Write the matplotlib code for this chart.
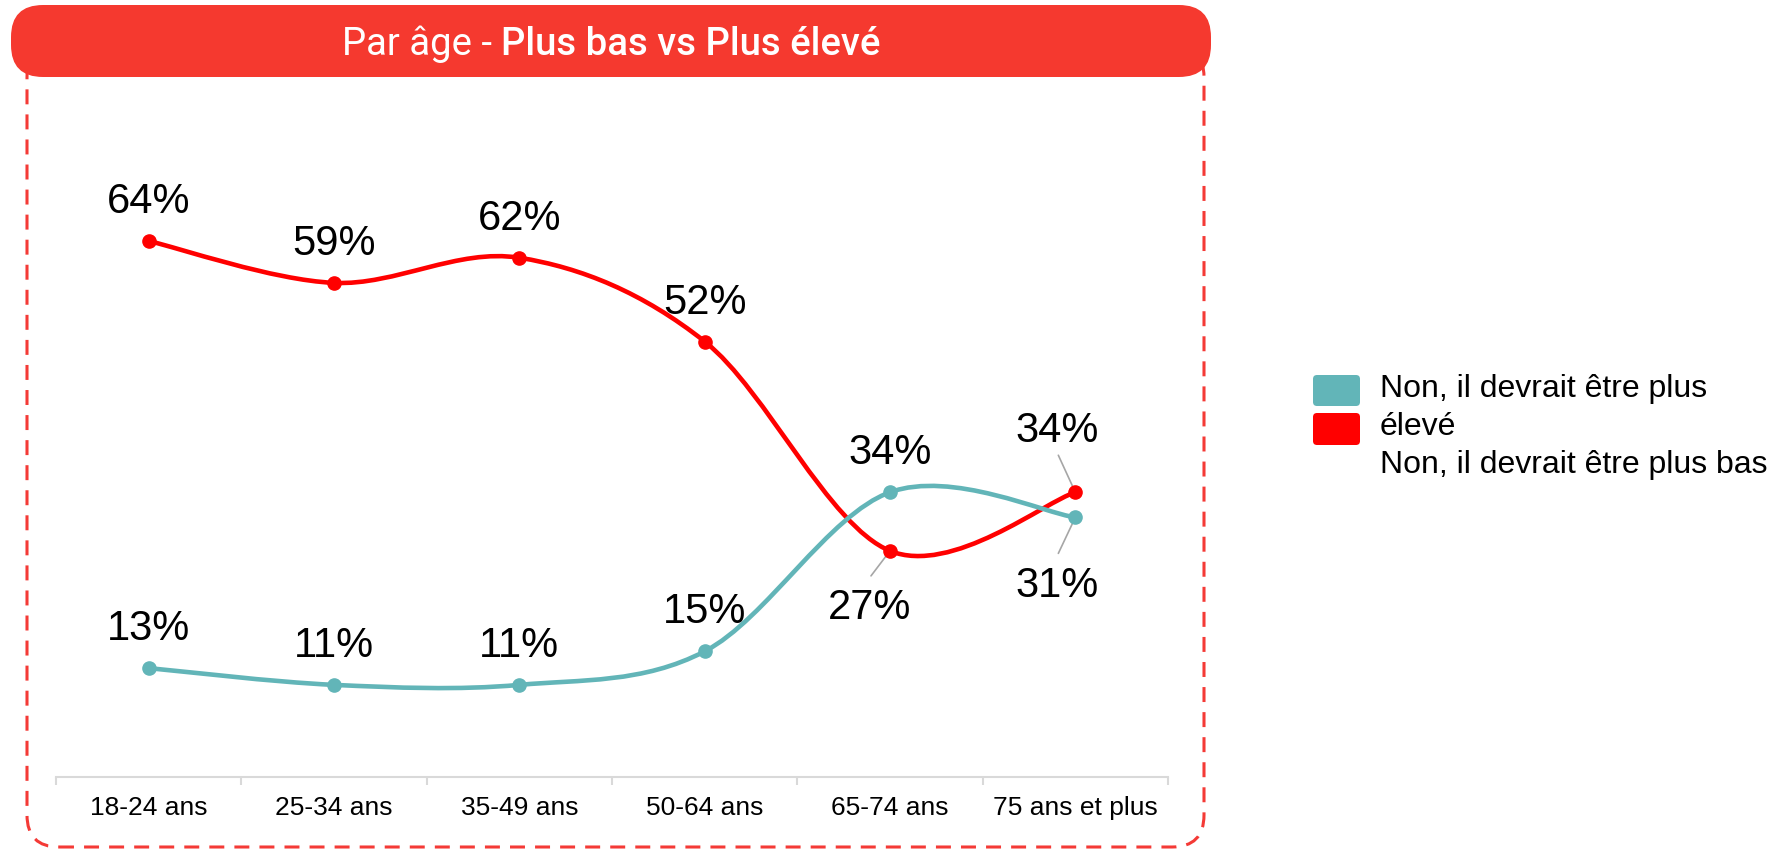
import matplotlib
matplotlib.use('Agg')
import matplotlib.pyplot as plt
from matplotlib.path import Path
from matplotlib.patches import PathPatch, FancyBboxPatch
from matplotlib.transforms import IdentityTransform
import numpy as np

# data
categories = ['18-24 ans', '25-34 ans', '35-49 ans', '50-64 ans', '65-74 ans', '75 ans et plus']
plus_eleve = [13, 11, 11, 15, 34, 31]
plus_bas = [64, 59, 62, 52, 27, 34]
series_labels = ['Non, il devrait être plus\nélevé', 'Non, il devrait être plus bas']
title_light = 'Par âge - '
title_bold = 'Plus bas vs Plus élevé'

TEAL = '#62B5B8'
RED = '#FF0000'
BANNER = '#F5392F'
GRID = '#D9D9D9'
W, H = 1778, 849

plt.rcParams['font.family'] = ['Liberation Sans', 'DejaVu Sans']


def smooth_path(x, y):
    """Excel-like smoothed line: one cubic bezier per segment, Catmull-Rom control points."""
    pts = np.column_stack([x, y]).astype(float)
    n = len(pts)
    verts = [pts[0]]
    codes = [Path.MOVETO]
    for i in range(n - 1):
        p0 = pts[max(i - 1, 0)]
        p1 = pts[i]
        p2 = pts[i + 1]
        p3 = pts[min(i + 2, n - 1)]
        verts += [p1 + (p2 - p0) / 6, p2 - (p3 - p1) / 6, p2]
        codes += [Path.CURVE4] * 3
    return Path(verts, codes)


fig = plt.figure(figsize=(W / 100, H / 100), dpi=100)
px = IdentityTransform()

# dashed frame and title banner
fig.patches.append(FancyBboxPatch((27, H - 847), 1177, 802, boxstyle='round,pad=0,rounding_size=32',
                                  transform=px, fill=False, edgecolor='#F43A36', lw=2.2,
                                  linestyle=(0, (4.9, 3.3)), zorder=0))
fig.patches.append(FancyBboxPatch((11, H - 77), 1200, 72, boxstyle='round,pad=0,rounding_size=32',
                                  transform=px, facecolor=BANNER, edgecolor='none', zorder=1))

r = fig.canvas.get_renderer()
t1 = fig.text(0, H - 55, title_light, transform=px, family='Roboto', weight='normal',
              fontsize=27.5, color='white', va='baseline', zorder=2)
t2 = fig.text(0, H - 55, title_bold, transform=px, family='Roboto', weight='medium',
              fontsize=27.5, color='white', va='baseline', zorder=2)
w1 = t1.get_window_extent(r).width
w2 = t2.get_window_extent(r).width
x0 = 611 - (w1 + w2) / 2
t1.set_x(x0)
t2.set_x(x0 + w1)

# chart
ax = fig.add_axes([56 / W, 72 / H, 1112 / W, 670 / H])
x = np.arange(len(categories))

series = [(plus_bas, RED), (plus_eleve, TEAL)]
for vals, color in series:
    ax.add_patch(PathPatch(smooth_path(x, vals), fill=False, edgecolor=color, lw=3.3,
                           capstyle='round', joinstyle='round', zorder=2))
for vals, color in series:
    ax.plot(x, vals, 'o', color=color, ms=9.5, zorder=4)

# label offsets (pixels, baseline) and leader lines for the crowded points
offsets = {('bas', 4): (-20, -68), ('bas', 5): (-18, 50), ('eleve', 5): (-18, -80)}
leaders = {('bas', 4): (-19, -25), ('bas', 5): (-17, 37), ('eleve', 5): (-17, -36)}
for key, vals in [('bas', plus_bas), ('eleve', plus_eleve)]:
    for i, v in enumerate(vals):
        dx, dy = offsets.get((key, i), (0, 28))
        ax.annotate(f'{v}%', (x[i], v), xytext=(dx, dy), textcoords='offset pixels',
                    ha='center', va='baseline', fontsize=30, color='black')
        if (key, i) in leaders:
            ax.annotate('', (x[i], v), xytext=leaders[(key, i)], textcoords='offset pixels',
                        arrowprops=dict(arrowstyle='-', color='#A6A6A6', lw=1.2,
                                        shrinkA=0, shrinkB=0), zorder=3)

ax.set_xlim(-0.5, len(categories) - 0.5)
ax.set_ylim(0, 80)
for s in ['top', 'left', 'right']:
    ax.spines[s].set_visible(False)
ax.spines['bottom'].set_color(GRID)
ax.spines['bottom'].set_linewidth(1.5)
ax.set_yticks([])
ax.set_xticks(x, categories)
ax.set_xticks(np.arange(-0.5, len(categories), 1), minor=True)
ax.tick_params(axis='x', which='major', length=0, pad=14, labelsize=19)
ax.tick_params(axis='x', which='minor', length=6, width=1.5, color=GRID)
ax.patch.set_alpha(0)

# legend drawn by hand to keep the wrapped layout of the original
fig.patches.append(FancyBboxPatch((1313, H - 406), 47, 31, boxstyle='round,pad=0,rounding_size=4',
                                  transform=px, facecolor=TEAL, edgecolor='none'))
fig.patches.append(FancyBboxPatch((1313, H - 445), 47, 32, boxstyle='round,pad=0,rounding_size=4',
                                  transform=px, facecolor=RED, edgecolor='none'))
lines = [ln for lab in series_labels for ln in lab.split('\n')]
for k, ln in enumerate(lines):
    fig.text(1380, H - 397 - 38 * k, ln, transform=px, fontsize=23, va='baseline', color='black')

fig.savefig('out.png', dpi=100, facecolor='white')
